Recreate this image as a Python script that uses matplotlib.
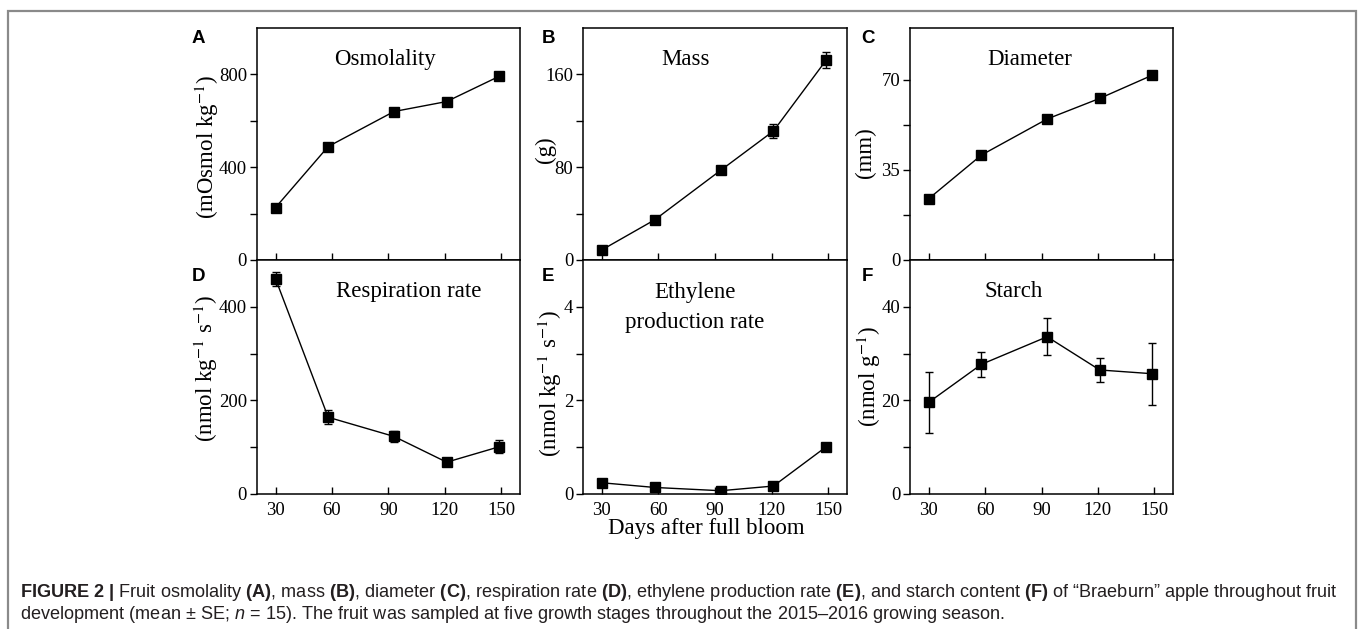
import matplotlib
matplotlib.use('Agg')
import matplotlib.pyplot as plt
from matplotlib.patches import Rectangle

# values
days = [30, 58, 93, 121, 149]
osmolality = [226, 489, 640, 683, 792]
osmolality_se = [6, 8, 8, 8, 10]
mass = [8.7, 34.6, 77.3, 111.2, 172.4]
mass_se = [1.0, 1.5, 2.0, 6.0, 6.5]
diameter = [23.8, 40.7, 54.7, 62.7, 71.7]
diameter_se = [0.5, 0.8, 0.8, 0.8, 0.8]
respiration = [460, 164, 123, 68, 101]
respiration_se = [15, 15, 12, 5, 14]
ethylene = [0.24, 0.14, 0.07, 0.17, 1.01]
ethylene_se = [0.03, 0.03, 0.02, 0.03, 0.05]
starch = [19.6, 27.7, 33.6, 26.5, 25.7]
starch_se = [6.5, 2.6, 4.0, 2.5, 6.6]

xticks = [30, 60, 90, 120, 150]

W, H = 1358, 629
plt.rcParams['font.family'] = 'Liberation Serif'
plt.rcParams['mathtext.fontset'] = 'stix'
plt.rcParams['mathtext.rm'] = 'Liberation Sans'
plt.rcParams['mathtext.bf'] = 'Liberation Sans:bold'
plt.rcParams['mathtext.it'] = 'Liberation Sans:italic'

fig = plt.figure(figsize=(W / 100, H / 100), dpi=100)

def fx(px):
    return px / W

def fy(py):
    return 1 - py / H

# frame round figure + caption
fig.patches.append(Rectangle((fx(8), fy(660)), fx(1348), 649 / H, transform=fig.transFigure,
                             fill=False, edgecolor='#8a8a8a', lw=1.6))

# panel boxes in pixels: left, top, right, bottom
cols = [(256.7, 520), (583, 847), (910, 1173)]
rows = [(28, 260), (260, 494)]

panels = [
    # letter, y, se, ylim, major, minor, title lines, title x, title y, ylabel, ylabel pos
    ('A', osmolality, osmolality_se, (0, 1000), [0, 400, 800], [200, 600],
     ['Osmolality'], 0.487, [0.84], '(mOsmol kg$^{-1}$)', (207, 147)),
    ('B', mass, mass_se, (0, 200), [0, 80, 160], [40, 120],
     ['Mass'], 0.389, [0.84], '(g)', (545, 150)),
    ('C', diameter, diameter_se, (0, 90), [0, 35, 70], [17.5, 52.5],
     ['Diameter'], 0.456, [0.84], '(mm)', (865, 153)),
    ('D', respiration, respiration_se, (0, 500), [0, 200, 400], [100, 300],
     ['Respiration rate'], 0.578, [0.843], '(nmol kg$^{-1}$ s$^{-1}$)', (206, 368)),
    ('E', ethylene, ethylene_se, (0, 5), [0, 2, 4], [1, 3],
     ['Ethylene', 'production rate'], 0.423, [0.836, 0.711], '(nmol kg$^{-1}$ s$^{-1}$)', (550, 383)),
    ('F', starch, starch_se, (0, 50), [0, 20, 40], [10, 30],
     ['Starch'], 0.393, [0.843], '(nmol g$^{-1}$)', (869, 377)),
]

for i, p in enumerate(panels):
    letter, y, se, ylim, major, minor, tlines, tx, tys, ylab, ylpos = p
    l, r = cols[i % 3]
    t, b = rows[i // 3]
    ax = fig.add_axes([fx(l), fy(b), (r - l) / W, (b - t) / H])
    ax.errorbar(days, y, yerr=se, color='black', marker='s', markersize=6.8,
                 lw=1.0, elinewidth=1.0, capsize=2.6, capthick=1.0)
    ax.set_xlim(20, 160)
    ax.set_ylim(*ylim)
    ax.set_xticks(xticks)
    ax.set_yticks(major)
    ax.set_yticks(minor, minor=True)
    ax.tick_params(axis='x', direction='in', length=5, width=1.0, top=False, pad=6,
                   labelsize=13.5, labelbottom=(i >= 3))
    ax.tick_params(axis='y', which='both', direction='out', length=5, width=1.0,
                   pad=2, labelsize=13.5)
    for s in ax.spines.values():
        s.set_linewidth(1.1)
    for line, ty in zip(tlines, tys):
        ax.text(tx, ty, line, transform=ax.transAxes, ha='center', va='baseline', fontsize=16.5)
    fig.text(fx(ylpos[0]), fy(ylpos[1]), ylab, rotation=90, ha='center', va='center', fontsize=16.5)
    lx = 192 if i % 3 == 0 else (541.7 if i % 3 == 1 else 861.7)
    ly = 43 if i < 3 else 281
    fig.text(fx(lx), fy(ly), letter, family='Liberation Sans', weight='bold',
             fontsize=13.5, ha='left', va='baseline')

fig.text(fx(706), fy(534), 'Days after full bloom', ha='center', va='baseline', fontsize=16.5)

cap1 = (r'$\mathbf{FIGURE\ 2\ |}$ Fruit osmolality $\mathbf{(A)}$, mass $\mathbf{(B)}$, '
        r'diameter $\mathbf{(C)}$, respiration rate $\mathbf{(D)}$, ethylene production rate '
        r'$\mathbf{(E)}$, and starch content $\mathbf{(F)}$ of “Braeburn” apple throughout fruit')
cap2 = (r'development (mean ± SE; $n$ = 15). The fruit was sampled at five growth stages '
        r'throughout the 2015–2016 growing season.')
fig.text(fx(20), fy(597), cap1, family='Liberation Sans', fontsize=13.1, math_fontfamily='custom',
         ha='left', va='baseline', color='#231f20')
fig.text(fx(20), fy(619), cap2, family='Liberation Sans', fontsize=13.1, math_fontfamily='custom',
         ha='left', va='baseline', color='#231f20')

plt.savefig('out.png', dpi=100)
